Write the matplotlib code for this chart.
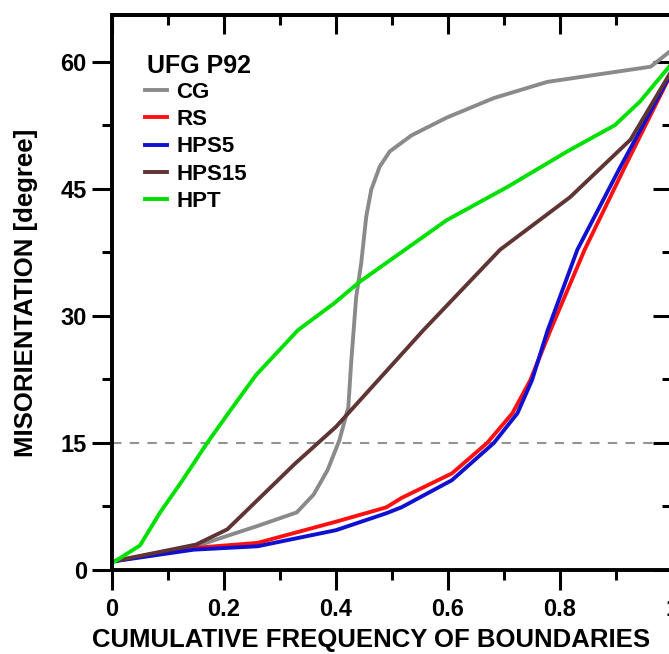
import numpy as np
import matplotlib
matplotlib.use('Agg')
import matplotlib.pyplot as plt

plt.rcParams['font.family'] = ['Liberation Sans', 'DejaVu Sans']
plt.rcParams['font.weight'] = 'bold'

# curve data (x = cumulative frequency, y = degree)
cg_x = [0, 0.15, 0.2, 0.26, 0.33, 0.36, 0.385, 0.406, 0.422, 0.427, 0.436, 0.445,
        0.454, 0.463, 0.478, 0.496, 0.535, 0.598, 0.682, 0.777, 0.962, 1.0]
cg_y = [1, 2.8, 3.9, 5.2, 6.8, 8.9, 11.8, 15.3, 19.2, 24.4, 32.2, 36.2,
        41.7, 44.9, 47.6, 49.4, 51.3, 53.4, 55.7, 57.6, 59.4, 61.4]

rs_x = [0, 0.146, 0.26, 0.4, 0.49, 0.517, 0.607, 0.67, 0.715, 0.747, 0.783, 0.844, 0.916, 1.0]
rs_y = [1, 2.6, 3.2, 5.7, 7.4, 8.5, 11.4, 15, 18.5, 22.4, 28.3, 37.8, 47.6, 58.8]

hps5_x = [0, 0.146, 0.26, 0.4, 0.49, 0.517, 0.607, 0.682, 0.724, 0.75, 0.778, 0.831, 0.908, 1.0]
hps5_y = [1, 2.4, 2.8, 4.7, 6.7, 7.4, 10.6, 15, 18.5, 22.4, 28.3, 37.8, 47.6, 58.8]

hps15_x = [0, 0.15, 0.206, 0.326, 0.4, 0.556, 0.693, 0.818, 0.926, 1.0]
hps15_y = [1, 3, 4.8, 12.5, 16.9, 28.3, 37.8, 44, 50.8, 59]

hpt_x = [0, 0.05, 0.086, 0.126, 0.17, 0.212, 0.257, 0.332, 0.397, 0.442, 0.598,
         0.706, 0.813, 0.898, 0.943, 1.0]
hpt_y = [0.8, 2.9, 6.8, 10.6, 15, 18.9, 23, 28.3, 31.5, 34, 41.3,
         45.2, 49.4, 52.5, 55.3, 59.8]

labels = ['CG', 'RS', 'HPS5', 'HPS15', 'HPT']
colors = ['#8a8a8a', '#ff1010', '#1010d0', '#5e3434', '#00e000']

fig = plt.figure(figsize=(6.69, 6.54), dpi=100)
ax = fig.add_axes([112/669, 84/654, 560/669, 555/654])

series = [(cg_x, cg_y), (rs_x, rs_y), (hps5_x, hps5_y), (hps15_x, hps15_y), (hpt_x, hpt_y)]
for (xs, ys), lab, c in zip(series, labels, colors):
    ax.plot(xs, ys, color=c, lw=2.8, label=lab, solid_joinstyle='round')

ax.axhline(15, color='#939393', lw=1.5, dashes=(4.5, 4), zorder=0)

ax.set_xlim(0, 1)
ax.set_ylim(0, 65.5)
ax.set_xticks([0, 0.2, 0.4, 0.6, 0.8, 1.0])
ax.set_xticklabels(['0', '0.2', '0.4', '0.6', '0.8', '1'])
ax.set_xticks(np.arange(0.1, 1.0, 0.2), minor=True)
ax.set_yticks([0, 15, 30, 45, 60])
ax.set_yticks([7.5, 22.5, 37.5, 52.5], minor=True)

for s in ax.spines.values():
    s.set_linewidth(2.8)
ax.spines['right'].set_visible(False)

ax.tick_params(which='major', direction='out', length=14.5, width=2.2, labelsize=17, pad=3.6)
ax.tick_params(which='minor', direction='out', length=7, width=2.2)
ax.tick_params(axis='x', which='major', pad=6)

top = ax.secondary_xaxis('top')
top.set_xticks([0, 0.2, 0.4, 0.6, 0.8, 1.0])
top.set_xticks(np.arange(0.1, 1.0, 0.2), minor=True)
top.tick_params(which='major', direction='in', length=14, width=2.2, labeltop=False)
top.tick_params(which='minor', direction='in', length=7, width=2.2)
top.spines['top'].set_linewidth(2.8)

right = ax.secondary_yaxis('right')
right.set_yticks([0, 15, 30, 45, 60])
right.set_yticks([7.5, 22.5, 37.5, 52.5], minor=True)
right.tick_params(which='major', direction='in', length=14, width=2.2, labelright=False)
right.tick_params(which='minor', direction='in', length=7, width=2.2)
right.spines['right'].set_linewidth(2.8)

ax.set_xlabel('CUMULATIVE FREQUENCY OF BOUNDARIES', fontsize=18.5, fontweight='bold')
ax.xaxis.set_label_coords((371 - 112) / 560, -0.105)
ax.set_ylabel('MISORIENTATION [degree]', fontsize=18.5, fontweight='bold')
ax.yaxis.set_label_coords(-0.153, 0.5)
ax.yaxis.label.set_verticalalignment('center')

ax.text((147 - 112) / 560, (570 - 73) / 555, 'UFG P92', transform=ax.transAxes,
        fontsize=18, fontweight='bold', va='baseline', ha='left')
ax.legend(loc='upper left', bbox_to_anchor=((145 - 112) / 560, (570 - 82) / 555),
          frameon=False, borderaxespad=0, borderpad=0, handlelength=1.0,
          handletextpad=0.42, labelspacing=0.28, prop={'size': 16, 'weight': 'bold'})

fig.savefig('out.png', dpi=100)
